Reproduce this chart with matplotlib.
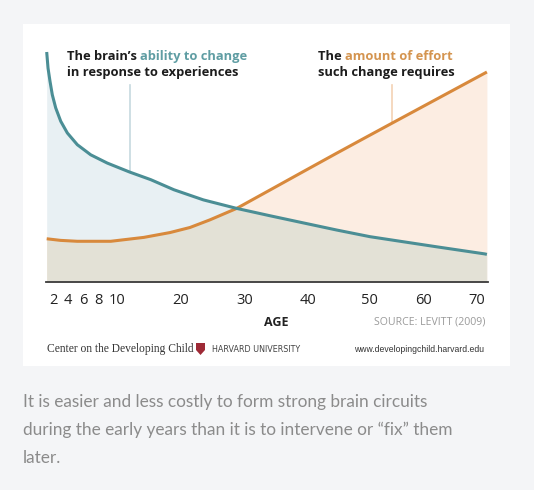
import numpy as np
import matplotlib
matplotlib.use("Agg")
import matplotlib.pyplot as plt
from matplotlib.patches import Rectangle, Polygon

W, H = 534, 490

# tick labels of the age axis and where they sit along it (warped scale)
tick_ages = [2, 4, 6, 8, 10, 20, 30, 40, 50, 60, 70]
scale_ages = [1, 2, 4, 6, 8, 10, 20, 30, 40, 50, 60, 70, 72]
scale_pos = [46, 53, 68, 83, 98, 117, 181, 245, 308, 369, 423, 477, 488]

# brain's ability to change (0-100)
ability_age = [1.1, 1.29, 1.57, 1.9, 2.36, 3.03, 3.91, 5.24, 7.03, 8.98, 11.98,
               15.27, 18.9, 23.5, 28.7, 33.97, 39.25, 44.7, 50.19, 56.35, 62.54,
               71.45, 71.8]
ability_val = [100.0, 93.0, 87.3, 81.4, 75.7, 69.9, 64.8, 59.7, 55.3, 51.7, 47.8,
               44.5, 40.1, 35.7, 32.0, 28.8, 25.7, 22.6, 19.7, 17.5, 15.3,
               12.2, 12.0]

# amount of effort such change requires
effort_age = [1.1, 3.0, 5.24, 9.34, 14.2, 18.28, 21.4, 24.5, 28.7, 33.97, 39.25,
              44.7, 49.07, 54.3, 71.8]
effort_val = [18.8, 18.1, 17.7, 17.7, 19.4, 21.5, 23.7, 27.0, 32.0, 40.0, 48.0,
              56.0, 62.3, 69.1, 91.3]

TEAL = "#4b8e95"
ORANGE = "#d8893c"
TEAL_FILL = "#e8f0f3"
ORANGE_FILL = "#fcede2"
BOTH_FILL = "#e3e1d6"


def fx(x):
    return x / W


def fy(y):
    return 1 - y / H


fig = plt.figure(figsize=(W / 100, H / 100), dpi=100)
fig.patch.set_facecolor("#f4f5f7")
fig.patches.append(Rectangle((fx(23), fy(366)), fx(510) - fx(23), fy(24) - fy(366),
                             transform=fig.transFigure, facecolor="white",
                             edgecolor="none", zorder=-1))

ax = fig.add_axes([fx(46), fy(282), fx(488) - fx(46), fy(52) - fy(282)])
ax.set_facecolor("none")

fwd = lambda a: np.interp(a, scale_ages, scale_pos)
inv = lambda p: np.interp(p, scale_pos, scale_ages)
ax.set_xscale("function", functions=(fwd, inv))
ax.set_xlim(1, 72)
ax.set_ylim(0, 100)

ax.fill_between(ability_age, 0, ability_val, color=TEAL_FILL, lw=0, zorder=1)
o_fill = ax.fill_between(effort_age, 0, effort_val, color=ORANGE_FILL, lw=0, zorder=1)
both = ax.fill_between(ability_age, 0, ability_val, color=BOTH_FILL, lw=0, zorder=2)
both.set_clip_path(o_fill.get_paths()[0], ax.transData)

ax.plot(effort_age, effort_val, color=ORANGE, lw=2.2, zorder=4,
        solid_capstyle="butt", solid_joinstyle="round", clip_on=False)
ax.plot(ability_age, ability_val, color=TEAL, lw=2.2, zorder=4,
        solid_capstyle="butt", solid_joinstyle="round", clip_on=False)

# leader lines from labels to curves
ax.plot([11.98, 11.98], [47.8, 85.5], color="#c6d9df", lw=1.2, zorder=3)
ax.plot([54.3, 54.3], [69.1, 85.5], color="#f3d2b4", lw=1.2, zorder=3)

for s in ["top", "right", "left"]:
    ax.spines[s].set_visible(False)
ax.spines["bottom"].set_color("#3a3a3a")
ax.spines["bottom"].set_linewidth(1.3)
ax.set_yticks([])
ax.set_xticks(tick_ages)
ax.set_xticklabels([str(t) for t in tick_ages])
ax.xaxis.set_minor_locator(matplotlib.ticker.NullLocator())
ax.tick_params(axis="x", length=0, pad=8, labelsize=10.5, labelcolor="#222222")
for lab in ax.get_xticklabels():
    lab.set_fontfamily("Open Sans")

font = "Open Sans"
fs = 9.3
t1 = fig.text(fx(67), fy(63), "The brain\u2019s ", fontsize=fs, fontweight="bold",
              family=font, color="#1c1c1c", va="bottom")
ax.annotate("ability to change", xy=(1, 0), xycoords=t1, fontsize=fs,
            fontweight="bold", family=font, color="#5f9da3", va="bottom")
fig.text(fx(67), fy(79), "in response to experiences", fontsize=fs, fontweight="bold",
         family=font, color="#1c1c1c", va="bottom")

t2 = fig.text(fx(318), fy(63), "The ", fontsize=fs, fontweight="bold",
              family=font, color="#1c1c1c", va="bottom")
ax.annotate("amount of effort", xy=(1, 0), xycoords=t2, fontsize=fs,
            fontweight="bold", family=font, color="#d4944f", va="bottom")
fig.text(fx(318), fy(79), "such change requires", fontsize=fs, fontweight="bold",
         family=font, color="#1c1c1c", va="bottom")

fig.text(fx(276), fy(322), "AGE", fontsize=9, fontweight="bold", family=font,
         color="#222222", ha="center", va="center")
fig.text(fx(485), fy(322), "SOURCE: LEVITT (2009)", fontsize=7.6, family=font,
         color="#9a9a9a", ha="right", va="center")

# footer
fig.text(fx(47), fy(349), "Center on the Developing Child", fontsize=8.3,
         family="Liberation Serif", color="#333333", va="center")
shield = Polygon([[fx(196), fy(343)], [fx(205), fy(343)], [fx(205), fy(350)],
                  [fx(200.5), fy(355)], [fx(196), fy(350)]], closed=True,
                 transform=fig.transFigure, facecolor="#9e2a36", edgecolor="none")
fig.patches.append(shield)
fig.text(fx(212), fy(349), "HARVARD UNIVERSITY", fontsize=5.8, family="DejaVu Sans",
         color="#444444", va="center")
fig.text(fx(484), fy(349), "www.developingchild.harvard.edu", fontsize=6.2,
         family="Liberation Sans", color="#333333", ha="right", va="center")

caption = ("It is easier and less costly to form strong brain circuits\n"
           "during the early years than it is to intervene or \u201cfix\u201d them\n"
           "later.")
fig.text(fx(23), fy(394), caption, fontsize=12.4, family="Lato", color="#8b8b8b",
         va="top", linespacing=1.88)

fig.savefig("out.png", dpi=100, facecolor=fig.get_facecolor())
